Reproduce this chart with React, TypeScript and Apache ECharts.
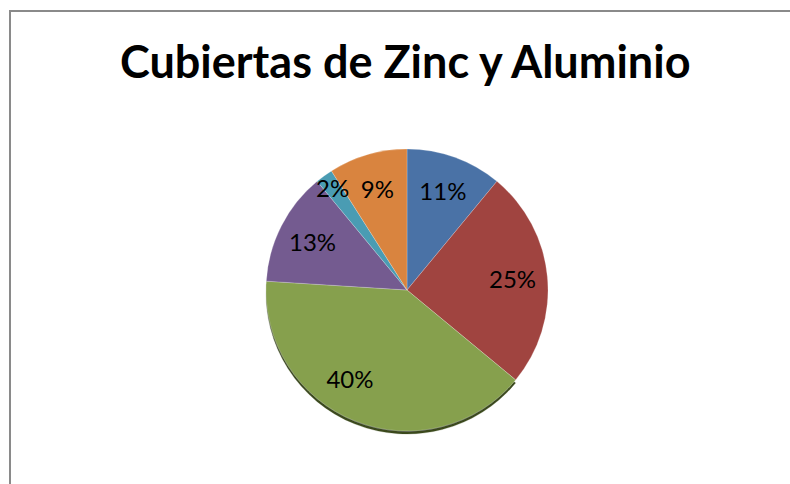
import React, { useEffect, useRef } from "react";
import * as echarts from "echarts";

const title = "Cubiertas de Zinc y Aluminio";
const categories = ["A", "B", "C", "D", "E", "F"];
const values = [11, 25, 40, 13, 2, 9];
const colors = ["#4A72A6", "#A04440", "#86A04E", "#745B90", "#4A9CB3", "#D9843F"];
const labelOffsets: Array<[number, number]> = [[0, 0], [0, -2], [-18, -10], [0, 0], [-12, -17], [0, 0]];

export default function App() {
  const ref = useRef<HTMLDivElement>(null);
  useEffect(() => {
    if (!ref.current) return;
    const chart = echarts.init(ref.current, undefined, { renderer: "svg" });
    const center = [407, 290];
    const R = 141;
    chart.setOption({
      animation: false,
      backgroundColor: "#ffffff",
      title: {
        text: title,
        left: 115,
        top: 33,
        textStyle: { fontFamily: "Lato", fontWeight: "bold", fontSize: 45, color: "#000" },
      },
      graphic: [
        {
          type: "rect",
          shape: { x: 10, y: 11, width: 820, height: 520 },
          style: { fill: "none", stroke: "#8a8a8a", lineWidth: 2 },
          z: -1,
        },
      ],
      series: [
        {
          type: "pie",
          center,
          radius: [0, R],
          startAngle: 90,
          clockwise: true,
          label: { show: false },
          labelLine: { show: false },
          silent: true,
          data: categories.map((c, i) => ({
            name: c,
            value: values[i],
            itemStyle: {
              color: colors[i],
              borderColor: "rgba(255,255,255,0.35)",
              borderWidth: 0.6,
              ...(i === 2
                ? { shadowColor: "#3b4a1a", shadowOffsetY: 3, shadowBlur: 1 }
                : {}),
            },
          })),
          z: 2,
        },
        {
          type: "pie",
          center,
          radius: [65, R],
          startAngle: 90,
          clockwise: true,
          silent: true,
          itemStyle: { color: "rgba(0,0,0,0)" },
          labelLine: { show: false },
          label: {
            show: true,
            position: "inside",
            fontFamily: "Lato",
            fontSize: 24,
            color: "#000",
            formatter: (p: any) => `${p.value}%`,
          },
          data: categories.map((c, i) => ({
            name: c,
            value: values[i],
            label: { offset: labelOffsets[i] },
          })),
          z: 3,
        },
      ],
    });
    return () => chart.dispose();
  }, []);
  return (
    <div
      ref={ref}
      style={{ position: "fixed", left: 0, top: 0, width: 790, height: 484 }}
    />
  );
}
